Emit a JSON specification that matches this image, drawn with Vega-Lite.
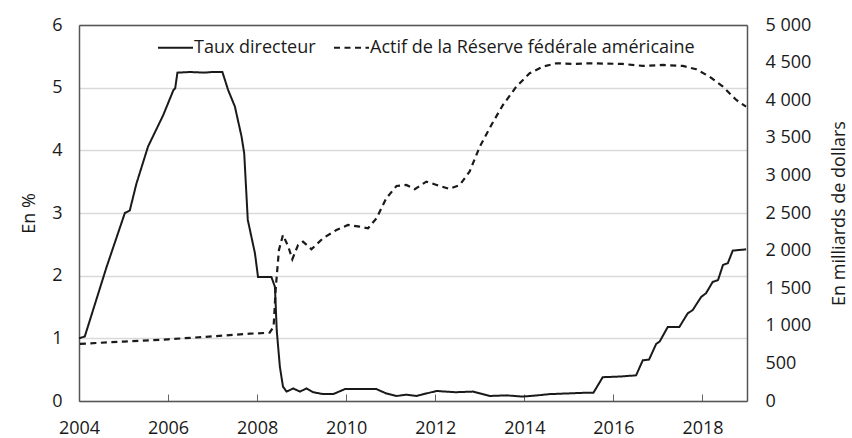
{
  "$schema": "https://vega.github.io/schema/vega-lite/v6.json",
  "width": 668,
  "height": 376,
  "autosize": {"type": "none"},
  "padding": {"left": 79, "top": 25, "right": 105, "bottom": 37},
  "background": "white",
  "config": {
    "font": "Open Sans",
    "view": {"stroke": null},
    "axis": {
      "labelFont": "Open Sans", "labelFontSize": 18, "labelColor": "#1a1a1a",
      "titleFont": "Open Sans", "titleFontSize": 18, "titleFontWeight": "normal", "titleColor": "#1a1a1a",
      "domain": true, "domainColor": "#555555", "domainWidth": 1.5
    },
    "legend": {
      "labelFont": "Open Sans", "labelFontSize": 18, "labelColor": "#1a1a1a"
    }
  },
  "datasets": {
    "taux": [
      {"annee": 2004.00, "valeur": 1.00, "serie": "Taux directeur"},
      {"annee": 2004.13, "valeur": 1.03, "serie": "Taux directeur"},
      {"annee": 2004.62, "valeur": 2.14, "serie": "Taux directeur"},
      {"annee": 2005.03, "valeur": 3.00, "serie": "Taux directeur"},
      {"annee": 2005.14, "valeur": 3.04, "serie": "Taux directeur"},
      {"annee": 2005.29, "valeur": 3.47, "serie": "Taux directeur"},
      {"annee": 2005.55, "valeur": 4.06, "serie": "Taux directeur"},
      {"annee": 2005.89, "valeur": 4.56, "serie": "Taux directeur"},
      {"annee": 2006.12, "valeur": 4.96, "serie": "Taux directeur"},
      {"annee": 2006.16, "valeur": 4.99, "serie": "Taux directeur"},
      {"annee": 2006.21, "valeur": 5.24, "serie": "Taux directeur"},
      {"annee": 2006.50, "valeur": 5.25, "serie": "Taux directeur"},
      {"annee": 2006.80, "valeur": 5.24, "serie": "Taux directeur"},
      {"annee": 2007.00, "valeur": 5.25, "serie": "Taux directeur"},
      {"annee": 2007.22, "valeur": 5.25, "serie": "Taux directeur"},
      {"annee": 2007.35, "valeur": 4.96, "serie": "Taux directeur"},
      {"annee": 2007.50, "valeur": 4.70, "serie": "Taux directeur"},
      {"annee": 2007.65, "valeur": 4.22, "serie": "Taux directeur"},
      {"annee": 2007.71, "valeur": 3.95, "serie": "Taux directeur"},
      {"annee": 2007.79, "valeur": 2.89, "serie": "Taux directeur"},
      {"annee": 2007.95, "valeur": 2.36, "serie": "Taux directeur"},
      {"annee": 2008.02, "valeur": 1.98, "serie": "Taux directeur"},
      {"annee": 2008.32, "valeur": 1.98, "serie": "Taux directeur"},
      {"annee": 2008.40, "valeur": 1.82, "serie": "Taux directeur"},
      {"annee": 2008.44, "valeur": 1.13, "serie": "Taux directeur"},
      {"annee": 2008.51, "valeur": 0.55, "serie": "Taux directeur"},
      {"annee": 2008.58, "valeur": 0.23, "serie": "Taux directeur"},
      {"annee": 2008.66, "valeur": 0.15, "serie": "Taux directeur"},
      {"annee": 2008.81, "valeur": 0.20, "serie": "Taux directeur"},
      {"annee": 2008.96, "valeur": 0.15, "serie": "Taux directeur"},
      {"annee": 2009.11, "valeur": 0.20, "serie": "Taux directeur"},
      {"annee": 2009.26, "valeur": 0.14, "serie": "Taux directeur"},
      {"annee": 2009.48, "valeur": 0.11, "serie": "Taux directeur"},
      {"annee": 2009.71, "valeur": 0.11, "serie": "Taux directeur"},
      {"annee": 2009.97, "valeur": 0.19, "serie": "Taux directeur"},
      {"annee": 2010.30, "valeur": 0.19, "serie": "Taux directeur"},
      {"annee": 2010.68, "valeur": 0.19, "serie": "Taux directeur"},
      {"annee": 2010.90, "valeur": 0.12, "serie": "Taux directeur"},
      {"annee": 2011.13, "valeur": 0.08, "serie": "Taux directeur"},
      {"annee": 2011.35, "valeur": 0.10, "serie": "Taux directeur"},
      {"annee": 2011.58, "valeur": 0.08, "serie": "Taux directeur"},
      {"annee": 2011.80, "valeur": 0.12, "serie": "Taux directeur"},
      {"annee": 2012.03, "valeur": 0.16, "serie": "Taux directeur"},
      {"annee": 2012.45, "valeur": 0.14, "serie": "Taux directeur"},
      {"annee": 2012.85, "valeur": 0.15, "serie": "Taux directeur"},
      {"annee": 2013.22, "valeur": 0.08, "serie": "Taux directeur"},
      {"annee": 2013.60, "valeur": 0.09, "serie": "Taux directeur"},
      {"annee": 2013.97, "valeur": 0.07, "serie": "Taux directeur"},
      {"annee": 2014.30, "valeur": 0.09, "serie": "Taux directeur"},
      {"annee": 2014.57, "valeur": 0.11, "serie": "Taux directeur"},
      {"annee": 2014.95, "valeur": 0.12, "serie": "Taux directeur"},
      {"annee": 2015.31, "valeur": 0.13, "serie": "Taux directeur"},
      {"annee": 2015.55, "valeur": 0.13, "serie": "Taux directeur"},
      {"annee": 2015.76, "valeur": 0.38, "serie": "Taux directeur"},
      {"annee": 2016.14, "valeur": 0.39, "serie": "Taux directeur"},
      {"annee": 2016.51, "valeur": 0.41, "serie": "Taux directeur"},
      {"annee": 2016.66, "valeur": 0.65, "serie": "Taux directeur"},
      {"annee": 2016.80, "valeur": 0.66, "serie": "Taux directeur"},
      {"annee": 2016.96, "valeur": 0.91, "serie": "Taux directeur"},
      {"annee": 2017.04, "valeur": 0.95, "serie": "Taux directeur"},
      {"annee": 2017.22, "valeur": 1.18, "serie": "Taux directeur"},
      {"annee": 2017.48, "valeur": 1.18, "serie": "Taux directeur"},
      {"annee": 2017.67, "valeur": 1.40, "serie": "Taux directeur"},
      {"annee": 2017.78, "valeur": 1.45, "serie": "Taux directeur"},
      {"annee": 2017.97, "valeur": 1.66, "serie": "Taux directeur"},
      {"annee": 2018.08, "valeur": 1.72, "serie": "Taux directeur"},
      {"annee": 2018.23, "valeur": 1.90, "serie": "Taux directeur"},
      {"annee": 2018.35, "valeur": 1.93, "serie": "Taux directeur"},
      {"annee": 2018.46, "valeur": 2.17, "serie": "Taux directeur"},
      {"annee": 2018.57, "valeur": 2.20, "serie": "Taux directeur"},
      {"annee": 2018.68, "valeur": 2.40, "serie": "Taux directeur"},
      {"annee": 2018.98, "valeur": 2.42, "serie": "Taux directeur"}
    ],
    "actif": [
      {"annee": 2004.02, "valeur": 760, "serie": "Actif de la Réserve fédérale américaine"},
      {"annee": 2005.00, "valeur": 790, "serie": "Actif de la Réserve fédérale américaine"},
      {"annee": 2006.00, "valeur": 820, "serie": "Actif de la Réserve fédérale américaine"},
      {"annee": 2007.00, "valeur": 860, "serie": "Actif de la Réserve fédérale américaine"},
      {"annee": 2007.84, "valeur": 895, "serie": "Actif de la Réserve fédérale américaine"},
      {"annee": 2008.28, "valeur": 908, "serie": "Actif de la Réserve fédérale américaine"},
      {"annee": 2008.37, "valeur": 988, "serie": "Actif de la Réserve fédérale américaine"},
      {"annee": 2008.42, "valeur": 1520, "serie": "Actif de la Réserve fédérale américaine"},
      {"annee": 2008.49, "valeur": 2008, "serie": "Actif de la Réserve fédérale américaine"},
      {"annee": 2008.58, "valeur": 2208, "serie": "Actif de la Réserve fédérale américaine"},
      {"annee": 2008.70, "valeur": 2052, "serie": "Actif de la Réserve fédérale américaine"},
      {"annee": 2008.79, "valeur": 1885, "serie": "Actif de la Réserve fédérale américaine"},
      {"annee": 2008.92, "valeur": 2075, "serie": "Actif de la Réserve fédérale américaine"},
      {"annee": 2009.03, "valeur": 2119, "serie": "Actif de la Réserve fédérale américaine"},
      {"annee": 2009.22, "valeur": 2018, "serie": "Actif de la Réserve fédérale américaine"},
      {"annee": 2009.48, "valeur": 2164, "serie": "Actif de la Réserve fédérale américaine"},
      {"annee": 2009.78, "valeur": 2274, "serie": "Actif de la Réserve fédérale américaine"},
      {"annee": 2010.04, "valeur": 2341, "serie": "Actif de la Réserve fédérale américaine"},
      {"annee": 2010.30, "valeur": 2318, "serie": "Actif de la Réserve fédérale américaine"},
      {"annee": 2010.49, "valeur": 2297, "serie": "Actif de la Réserve fédérale américaine"},
      {"annee": 2010.68, "valeur": 2430, "serie": "Actif de la Réserve fédérale américaine"},
      {"annee": 2010.90, "valeur": 2696, "serie": "Actif de la Réserve fédérale américaine"},
      {"annee": 2011.13, "valeur": 2860, "serie": "Actif de la Réserve fédérale américaine"},
      {"annee": 2011.35, "valeur": 2873, "serie": "Actif de la Réserve fédérale américaine"},
      {"annee": 2011.54, "valeur": 2816, "serie": "Actif de la Réserve fédérale américaine"},
      {"annee": 2011.80, "valeur": 2917, "serie": "Actif de la Réserve fédérale américaine"},
      {"annee": 2012.03, "valeur": 2873, "serie": "Actif de la Réserve fédérale américaine"},
      {"annee": 2012.32, "valeur": 2820, "serie": "Actif de la Réserve fédérale américaine"},
      {"annee": 2012.55, "valeur": 2873, "serie": "Actif de la Réserve fédérale américaine"},
      {"annee": 2012.77, "valeur": 3050, "serie": "Actif de la Réserve fédérale américaine"},
      {"annee": 2013.00, "valeur": 3382, "serie": "Actif de la Réserve fédérale américaine"},
      {"annee": 2013.26, "valeur": 3671, "serie": "Actif de la Réserve fédérale américaine"},
      {"annee": 2013.52, "valeur": 3937, "serie": "Actif de la Réserve fédérale américaine"},
      {"annee": 2013.82, "valeur": 4180, "serie": "Actif de la Réserve fédérale américaine"},
      {"annee": 2014.12, "valeur": 4358, "serie": "Actif de la Réserve fédérale américaine"},
      {"annee": 2014.42, "valeur": 4447, "serie": "Actif de la Réserve fédérale américaine"},
      {"annee": 2014.72, "valeur": 4491, "serie": "Actif de la Réserve fédérale américaine"},
      {"annee": 2015.09, "valeur": 4482, "serie": "Actif de la Réserve fédérale américaine"},
      {"annee": 2015.46, "valeur": 4491, "serie": "Actif de la Réserve fédérale américaine"},
      {"annee": 2016.21, "valeur": 4482, "serie": "Actif de la Réserve fédérale américaine"},
      {"annee": 2016.66, "valeur": 4456, "serie": "Actif de la Réserve fédérale américaine"},
      {"annee": 2017.11, "valeur": 4469, "serie": "Actif de la Réserve fédérale américaine"},
      {"annee": 2017.56, "valeur": 4456, "serie": "Actif de la Réserve fédérale américaine"},
      {"annee": 2017.86, "valeur": 4411, "serie": "Actif de la Réserve fédérale américaine"},
      {"annee": 2018.16, "valeur": 4313, "serie": "Actif de la Réserve fédérale américaine"},
      {"annee": 2018.46, "valeur": 4180, "serie": "Actif de la Réserve fédérale américaine"},
      {"annee": 2018.76, "valeur": 4003, "serie": "Actif de la Réserve fédérale américaine"},
      {"annee": 2018.98, "valeur": 3914, "serie": "Actif de la Réserve fédérale américaine"}
    ]
  },
  "layer": [
    {
      "data": {"name": "taux"},
      "mark": {"type": "line", "strokeWidth": 2, "color": "#1a1a1a"},
      "encoding": {
        "x": {
          "field": "annee", "type": "quantitative",
          "scale": {"domain": [2004, 2019], "nice": false, "zero": false},
          "axis": {
            "title": null, "values": [2004, 2006, 2008, 2010, 2012, 2014, 2016, 2018],
            "format": "d", "grid": false, "ticks": true, "tickSize": -7, "tickColor": "#666666",
            "tickWidth": 1, "labelPadding": 25, "labelFlush": false
          }
        },
        "y": {
          "field": "valeur", "type": "quantitative",
          "scale": {"domain": [0, 6], "nice": false},
          "axis": {
            "title": "En %", "values": [0, 1, 2, 3, 4, 5, 6], "ticks": false,
            "labelPadding": 17, "grid": true, "gridColor": "#d9d9d9", "gridWidth": 1.5,
            "titlePadding": 13
          }
        },
        "strokeDash": {
          "field": "serie", "type": "nominal",
          "scale": {
            "domain": ["Taux directeur", "Actif de la Réserve fédérale américaine"],
            "range": [[1, 0], [6, 4.5]]
          },
          "legend": {
            "title": null, "orient": "none", "legendX": 78, "legendY": 4,
            "direction": "horizontal", "symbolType": "stroke", "symbolSize": 1225,
            "symbolStrokeWidth": 2, "symbolStrokeColor": "#1a1a1a",
            "labelOffset": 0, "columnPadding": 14, "labelLimit": 0, "padding": 0
          }
        }
      }
    },
    {
      "data": {"name": "actif"},
      "mark": {"type": "line", "strokeWidth": 2.2, "color": "#1a1a1a"},
      "encoding": {
        "x": {
          "field": "annee", "type": "quantitative",
          "axis": {"orient": "top", "title": null, "labels": false, "ticks": false, "grid": false, "domain": true, "zindex": 1}
        },
        "y": {
          "field": "valeur", "type": "quantitative",
          "scale": {"domain": [0, 5000], "nice": false},
          "axis": {
            "orient": "right", "title": "En milliards de dollars", "titleAngle": 270,
            "values": [0, 500, 1000, 1500, 2000, 2500, 3000, 3500, 4000, 4500, 5000],
            "labelExpr": "replace(format(datum.value, ','), ',', ' ')",
            "ticks": false, "grid": false, "labelPadding": 18, "titlePadding": 38, "zindex": 1
          }
        },
        "strokeDash": {"field": "serie", "type": "nominal"}
      }
    }
  ],
  "resolve": {"scale": {"y": "independent"}, "axis": {"x": "independent"}}
}
